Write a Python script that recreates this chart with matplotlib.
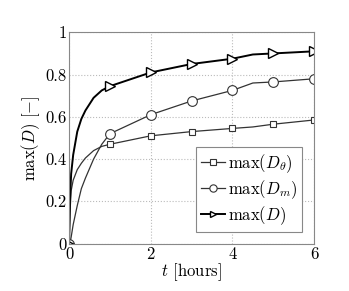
import matplotlib
matplotlib.use('Agg')
import matplotlib.pyplot as plt
import numpy as np

plt.rcParams['font.family'] = 'serif'
plt.rcParams['font.serif'] = ['cmr10', 'DejaVu Serif']
plt.rcParams['mathtext.fontset'] = 'cm'
plt.rcParams['axes.formatter.use_mathtext'] = True

# time [hours] and max damage values
t = [0, 0.02, 0.05, 0.1, 0.2, 0.3, 0.4, 0.6, 0.8, 1, 2, 3, 4, 4.5, 5, 6]
d_theta = [0, 0.14, 0.25, 0.3, 0.35, 0.38, 0.405, 0.44, 0.46, 0.47, 0.51, 0.53, 0.545, 0.552, 0.565, 0.585]
d_m = [0, 0.0, 0.03, 0.09, 0.18, 0.26, 0.31, 0.4, 0.47, 0.52, 0.61, 0.675, 0.725, 0.76, 0.765, 0.78]
d_max = [0, 0.2, 0.33, 0.42, 0.53, 0.59, 0.63, 0.69, 0.725, 0.745, 0.81, 0.85, 0.875, 0.895, 0.9, 0.91]
mark_idx = [0, 9, 10, 11, 12, 14, 15]

x_ticks = [0, 2, 4, 6]
y_ticks = [0, 0.2, 0.4, 0.6, 0.8, 1]
y_ticklabels = ['0', '0.2', '0.4', '0.6', '0.8', '1']

fig = plt.figure(figsize=(3.49, 2.91), dpi=100)
ax = fig.add_axes([0.198, 0.163, 0.702, 0.726])

ax.plot(t, d_theta, '-s', color='#333333', lw=0.9, ms=5, mfc='white', mec='#333333',
        mew=0.8, markevery=mark_idx, label=r'$\max(D_\theta)$')
ax.plot(t, d_m, '-o', color='#333333', lw=0.9, ms=7, mfc='white', mec='#333333',
        mew=0.8, markevery=mark_idx, label=r'$\max(D_m)$')
ax.plot(t, d_max, '->', color='black', lw=1.4, ms=6.5, mfc='white', mec='black',
        mew=1.0, markevery=mark_idx, label=r'$\max(D)$')

ax.set_xlim(0, 6)
ax.set_ylim(0, 1)
ax.set_xticks(x_ticks)
ax.set_xticklabels([str(v) for v in x_ticks])
ax.set_yticks(y_ticks)
ax.set_yticklabels(y_ticklabels)
ax.tick_params(direction='in', length=0, labelsize=12, pad=2)
ax.grid(True, ls=':', color='#bbbbbb', lw=0.8)
for s in ax.spines.values():
  s.set_color('#888888')
  s.set_linewidth(0.8)

ax.set_xlabel(r'$t$ [hours]', fontsize=12, labelpad=0)
ax.set_ylabel(r'$\max(D)$ [$-$]', fontsize=12, labelpad=2)

leg = ax.legend(loc='lower right', fontsize=12, handlelength=1.4, handletextpad=0.2,
                borderpad=0.3, labelspacing=0.2, fancybox=False, framealpha=1,
                borderaxespad=0.7, markerscale=0.75)
leg.get_frame().set_edgecolor('#888888')
leg.get_frame().set_linewidth(0.8)

plt.savefig('out.png', dpi=100)
